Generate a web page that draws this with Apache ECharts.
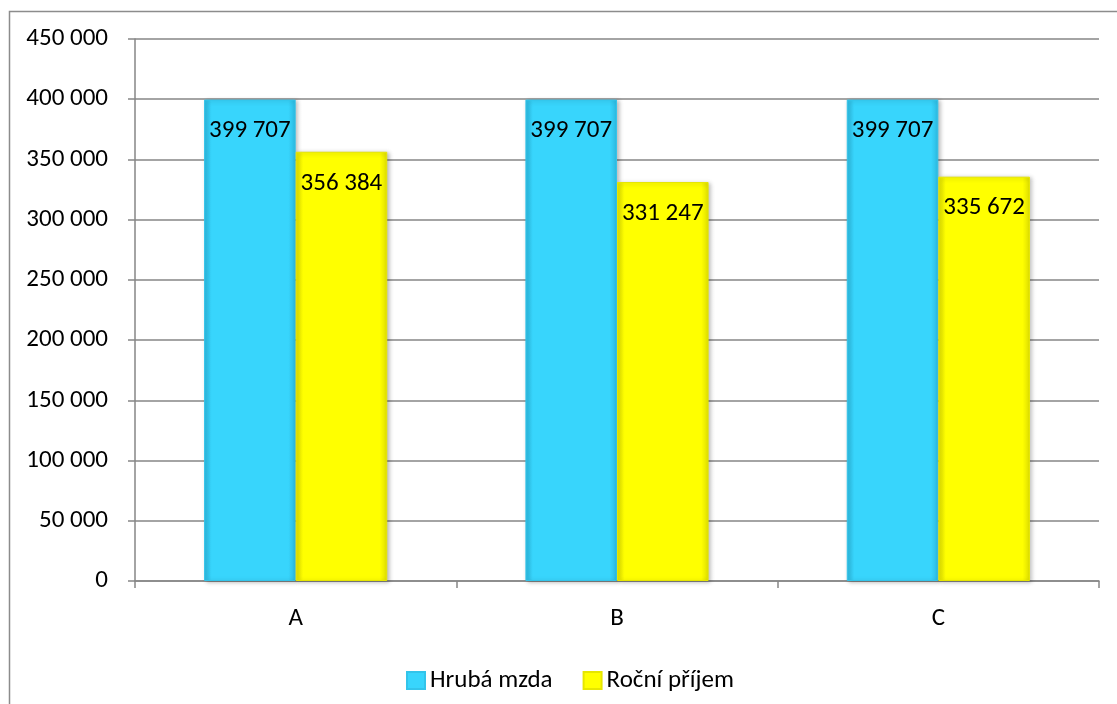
<!DOCTYPE html>
<html>
<head>
<meta charset="utf-8">
<script src="https://cdn.jsdelivr.net/npm/echarts@6/dist/echarts.min.js"></script>
<style>
html,body{margin:0;padding:0;background:#fff;}
#c{width:1117px;height:704px;}
</style>
</head>
<body>
<div id="c"></div>
<script>
const categories = ['A', 'B', 'C'];
const seriesNames = ['Hrubá mzda', 'Roční příjem'];
const hrubaMzda = [399707, 399707, 399707];
const rocniPrijem = [356384, 331247, 335672];

const FONT = 'Carlito, Lato, sans-serif';
const FS = 25;
function fmt(v) {
  return String(Math.round(v)).replace(/\B(?=(\d{3})+(?!\d))/g, ' ');
}
function grad(edge, mid) {
  return new echarts.graphic.LinearGradient(0, 0, 1, 0, [
    {offset: 0, color: edge},
    {offset: 0.08, color: mid},
    {offset: 0.92, color: mid},
    {offset: 1, color: edge}
  ]);
}
const chart = echarts.init(document.getElementById('c'), null, {renderer: 'canvas'});
const labelCfg = {
  show: true,
  position: 'insideTop',
  distance: 19,
  color: '#000',
  fontFamily: FONT,
  fontSize: FS,
  formatter: p => fmt(p.value)
};
chart.setOption({
  animation: false,
  backgroundColor: '#fff',
  graphic: [{
    type: 'rect',
    shape: {x: 9.5, y: 11.5, width: 1300, height: 900},
    style: {fill: 'none', stroke: '#8c8c8c', lineWidth: 1.5},
    silent: true, z: -1
  }],
  grid: {left: 135, right: 18, top: 39, bottom: 123},
  legend: {
    left: 401, top: 663,
    itemWidth: 18, itemHeight: 17, itemGap: 30,
    icon: 'rect',
    textStyle: {fontFamily: FONT, fontSize: FS, color: '#000'},
    data: seriesNames
  },
  xAxis: {
    type: 'category',
    data: categories,
    axisLine: {lineStyle: {color: '#868686', width: 1.5}},
    axisTick: {show: true, length: 7, lineStyle: {color: '#868686', width: 1.5}},
    axisLabel: {color: '#000', fontFamily: FONT, fontSize: FS, margin: 25}
  },
  yAxis: {
    type: 'value',
    min: 0, max: 450000, interval: 50000,
    axisLine: {show: true, lineStyle: {color: '#868686', width: 1.5}},
    axisTick: {show: true, length: 7, lineStyle: {color: '#868686', width: 1.5}},
    splitLine: {lineStyle: {color: '#868686', width: 1.5}},
    axisLabel: {color: '#000', fontFamily: FONT, fontSize: FS, margin: 27, formatter: v => fmt(v)}
  },
  series: [
    {
      name: seriesNames[0], type: 'bar', data: hrubaMzda,
      barGap: '0%', barCategoryGap: '43%',
      itemStyle: {
        color: grad('#2cb9e0', '#38d5fc'),
        borderColor: '#33c4ea', borderWidth: 1,
        shadowColor: 'rgba(0,0,0,0.25)', shadowBlur: 4, shadowOffsetX: 2, shadowOffsetY: 1
      },
      label: labelCfg
    },
    {
      name: seriesNames[1], type: 'bar', data: rocniPrijem,
      barGap: '0%', barCategoryGap: '43%',
      itemStyle: {
        color: grad('#dede00', '#ffff00'),
        borderColor: '#e6e600', borderWidth: 1,
        shadowColor: 'rgba(0,0,0,0.25)', shadowBlur: 4, shadowOffsetX: 2, shadowOffsetY: 1
      },
      label: labelCfg
    }
  ]
});
</script>
</body>
</html>
